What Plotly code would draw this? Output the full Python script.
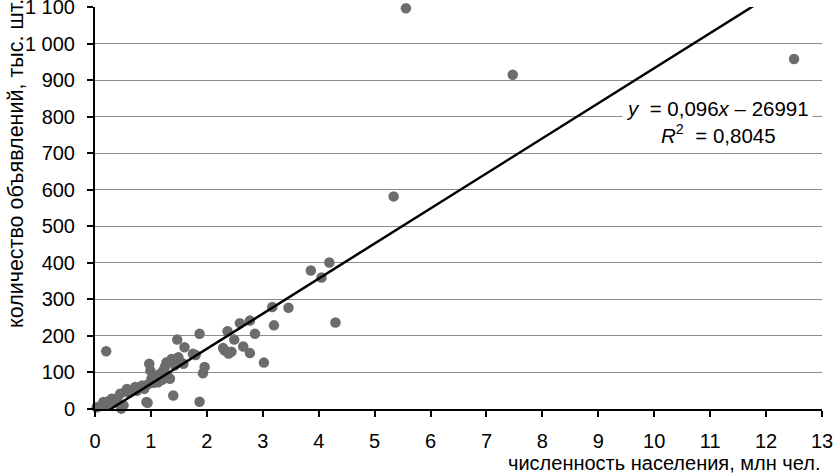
import plotly.graph_objects as go

# population, million people
pop_mln = [0.03, 0.10, 0.15, 0.20, 0.25, 0.30, 0.35, 0.40, 0.45, 0.47, 0.51, 0.55,
           0.57, 0.62, 0.65, 0.72, 0.75, 0.80, 0.84, 0.88, 0.92, 0.94, 0.95, 0.97,
           0.99, 1.01, 1.05, 1.08, 1.13, 1.16, 1.20, 1.22, 1.25, 1.28, 1.30, 1.34,
           1.37, 1.40, 1.43, 1.47, 1.49, 1.52, 1.58, 1.60, 1.75, 1.80, 1.87, 1.87,
           1.93, 1.96, 2.29, 2.32, 2.37, 2.39, 2.44, 2.49, 2.59, 2.65, 2.77, 2.77,
           2.86, 3.02, 3.17, 3.20, 3.46, 3.86, 4.05, 4.19, 4.30, 5.34, 5.56, 7.47,
           12.5, 0.20]
# ads, thousand units
ads_k = [5, 8, 19, 12, 22, 28, 18, 30, 42, 1, 10, 48,
         55, 45, 52, 60, 50, 58, 64, 55, 19, 17, 68, 124,
         105, 83, 72, 90, 73, 96, 80, 105, 115, 128, 90, 83,
         137, 37, 120, 190, 142, 130, 124, 169, 151, 148, 206, 20,
         98, 115, 167, 160, 213, 152, 157, 190, 235, 171, 242, 153,
         206, 127, 279, 229, 277, 379, 360, 401, 237, 582, 1097, 915,
         958, 158]

# trendline y = 0.096x - 26991 (raw units) -> thousand vs million
slope_raw = 0.096
intercept_raw = -26991

y_tickvals = [0, 100, 200, 300, 400, 500, 600, 700, 800, 900, 1000, 1100]
y_ticktext = ["0", "100", "200", "300", "400", "500", "600", "700", "800", "900", "1 000", "1 100"]
x_tickvals = list(range(0, 14))

slope = slope_raw * 1000
intercept = intercept_raw / 1000
lx = [min(pop_mln), max(pop_mln)]
ly = [slope * v + intercept for v in lx]

FONT = "Liberation Sans, Arial, sans-serif"
L, R, T, B = 95, 18, 7, 65
PW, PH = 840 - L - R, 474 - T - B

fig = go.Figure()
fig.add_trace(go.Scatter(x=pop_mln, y=ads_k, mode="markers",
                         marker=dict(size=10.5, color="#6c6c6c", line=dict(width=0)),
                         cliponaxis=False, showlegend=False))
fig.add_trace(go.Scatter(x=lx, y=ly, mode="lines",
                         line=dict(color="black", width=2.5), showlegend=False))

fig.update_layout(
    width=840, height=474,
    margin=dict(l=L, r=R, t=T, b=B),
    paper_bgcolor="white", plot_bgcolor="white",
    font=dict(family=FONT, size=20, color="black"),
    xaxis=dict(range=[0, 13], tickvals=x_tickvals, showgrid=False, zeroline=False,
               showline=True, linecolor="black", linewidth=2, automargin=False,
               ticks="outside", ticklen=6, tickwidth=1.5, tickcolor="black",
               ticklabelstandoff=7, ticklabeloverflow="allow"),
    yaxis=dict(range=[0, 1100.5], tickvals=y_tickvals, ticktext=y_ticktext,
               showgrid=True, gridcolor="#8c8c8c", gridwidth=1, zeroline=False,
               showline=True, linecolor="black", linewidth=2, automargin=False,
               ticks="outside", ticklen=6, tickwidth=1.5, tickcolor="black",
               ticklabelstandoff=8, ticklabeloverflow="allow"),
)

fig.add_annotation(xref="paper", yref="paper", x=(16 - L) / PW, y=(T + PH - 164) / PH,
                   text="количество объявлений, тыс. шт.", textangle=-90,
                   showarrow=False, xanchor="center", yanchor="middle",
                   font=dict(size=21.5))
fig.add_annotation(xref="paper", yref="paper", x=1.0, y=-(463 - T - PH) / PH,
                   text="численность населения, млн чел.", showarrow=False,
                   xanchor="right", yanchor="middle", font=dict(size=20))
fig.add_annotation(xref="paper", yref="paper", x=(717 - L) / PW, y=(T + PH - 122) / PH,
                   text="<i>y</i>&nbsp;&nbsp;=&nbsp;0,096<i>x</i>&nbsp;–&nbsp;26991"
                        "<br><i>R</i><sup>2</sup>&nbsp;&nbsp;=&nbsp;0,8045",
                   showarrow=False, xanchor="center", yanchor="middle",
                   bgcolor="white", borderpad=3, font=dict(size=20.5))

fig.write_html("out.html", config={"displayModeBar": False},
               post_script="document.body.style.margin='0';")
